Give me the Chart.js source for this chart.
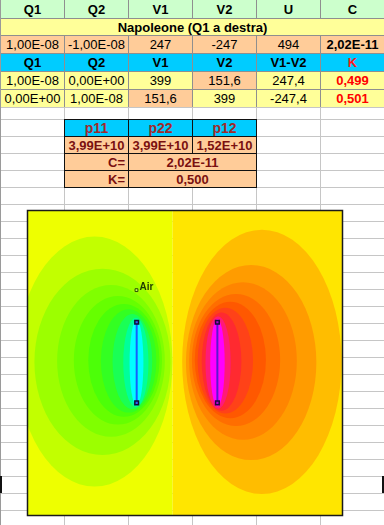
<!DOCTYPE html>
<html>
<head>
<meta charset="utf-8">
<script src="https://cdn.jsdelivr.net/npm/chart.js"></script>
<style>
  html,body{margin:0;padding:0;background:#fff;overflow:hidden;}
  #sheet{position:relative;width:384px;height:525px;overflow:hidden;background:#fff;
    font-family:"Liberation Sans",Arial,sans-serif;font-size:13px;color:#000;}
  .g{position:absolute;background:#c6c6c6;}
  .c{position:absolute;box-sizing:border-box;display:flex;align-items:center;justify-content:center;
     white-space:nowrap;line-height:1;}
  #plotWrap{position:absolute;left:22px;top:205px;width:326px;height:316px;}
</style>
</head>
<body>
<div id="sheet">
  <div id="plotWrap"><canvas id="chart" width="326" height="316"></canvas></div>
</div>
<script>
// ---------------- DATA ----------------
// Top table (sheet values)
const headerRow1 = ["Q1","Q2","V1","V2","U","C"];
const titleRow = "Napoleone (Q1 a destra)";
const napoleoneRow = ["1,00E-08","-1,00E-08","247","-247","494","2,02E-11"];
const headerRow2 = ["Q1","Q2","V1","V2","V1-V2","K"];
const caseRow1 = ["1,00E-08","0,00E+00","399","151,6","247,4","0,499"];
const caseRow2 = ["0,00E+00","1,00E-08","151,6","399","-247,4","0,501"];
// Coefficient table
const coeffHeaders = ["p11","p22","p12"];
const coeffValues = ["3,99E+10","3,99E+10","1,52E+10"];
const capLabel = "C=", capValue = "2,02E-11";
const kLabel = "K=", kValue = "0,500";

// Field plot (units: box width = 100)
const zeroLineX = 46.1;                 // boundary between negative / positive half
// contour levels around left (Q2, cyan) electrode, outer -> inner
const leftCx = [21.3, 23.8, 26.5, 28.7, 30.6, 32.1, 33.3, 34.4, 34.6];
const leftCy = [48.9, 48.8, 49.1, 49.3, 49.3, 49.1, 48.9, 48.6, 48.5];
const leftRx = [24.7, 21.6, 17.1, 14.0, 11.3, 8.8, 6.3, 4.0, 2.2];
const leftRy = [39.7, 29.6, 24.1, 20.4, 17.9, 16.4, 15.1, 14.2, 13.6];
// contour levels around right (Q1, magenta) electrode, outer -> inner
const rightCx = [74.4, 71.0, 68.4, 66.2, 64.4, 62.8, 61.6, 60.5, 60.3];
const rightCy = [48.8, 48.6, 49.1, 49.4, 49.4, 49.2, 48.9, 48.6, 48.5];
const rightRx = [25.3, 20.7, 17.1, 14.0, 11.3, 8.8, 6.3, 4.0, 2.3];
const rightRy = [42.0, 31.0, 25.0, 21.0, 18.5, 16.8, 15.6, 14.7, 13.9];
// electrodes
const electrodeX = [34.66, 60.28];
const electrodeYTop = 61.4;
const electrodeYBottom = 35.8;
// probe point
const probeLabel = "Air";
const probeX = 34.6, probeY = 71.6;

// ---------------- STYLES ----------------
const leftBg = "#eeff00", rightBg = "#ffe600";
const leftColors = ["#c2ff00","#9cff00","#80ff00","#66ff00","#4cff08","#33ff22","#1aff55","#00ff9a","#00ffff"];
const rightColors = ["#ffbd00","#ff9c00","#ff8500","#ff6e00","#ff5800","#ff4218","#ff2a30","#ff1a78","#ff00ff"];

// ---------------- SHEET ----------------
const sheet = document.getElementById("sheet");
function add(cls,l,t,w,h,css,text){ const d=document.createElement("div"); d.className=cls;
  Object.assign(d.style,{left:l+"px",top:t+"px",width:w+"px",height:h+"px"},css||{}); if(text!==undefined) d.textContent=text; sheet.appendChild(d); return d; }

const colX = [0,64,128,192,256,320,384];
const rowY = [0,18,35,53,71,89,107,119];
for(let y=136;y<=530;y+=17) rowY.push(y);
// gridlines
rowY.forEach(y=>{ if(y>0) add("g",0,y,384,1); });
colX.forEach(x=>{ if(x<384) add("g",x,0,1,525); });

const G="#ffff99", P="#ffcc99", B="#00ccff", H="#ccffcc";
const lineC = "1px solid #8f8f8f";
function row(r, vals, bgs, extra){
  for(let i=0;i<6;i++){
    const base = {background:bgs[i], borderLeft:lineC, borderTop:(r>0?lineC:"none")};
    const ex = extra?extra(i):{};
    add("c", colX[i], rowY[r], 64, rowY[r+1]-rowY[r], Object.assign(base,ex), vals[i]);
  }
}
row(0, headerRow1, [H,H,H,H,H,H], ()=>({fontWeight:"bold"}));
add("c",0,rowY[1],384,rowY[2]-rowY[1],{background:G,fontWeight:"bold",borderTop:lineC,borderLeft:lineC},titleRow);
row(2, napoleoneRow, [P,P,P,P,P,P], i=>(i===5?{fontWeight:"bold"}:{}));
row(3, headerRow2, [B,B,B,B,B,B], i=>(i===5?{fontWeight:"bold",color:"#ff1a1a"}:{fontWeight:"bold"}));
row(4, caseRow1, [G,G,G,P,G,G], i=>(i===5?{fontWeight:"bold",color:"#ff0000"}:{}));
row(5, caseRow2, [G,G,P,G,G,G], i=>(i===5?{fontWeight:"bold",color:"#ff0000"}:{}));
add("g",0,0,1,525,{background:"#9a9a9a"});

// coefficient table (rows 119..187)
const bd = "1px solid #111";
const tc1="#a02a2a", tc2="#7a1010";
for(let i=0;i<3;i++){
  add("c",colX[1+i],119,65,18,{background:B,border:bd,fontWeight:"bold",color:tc1,fontSize:"14px"},coeffHeaders[i]);
  add("c",colX[1+i],136,65,18,{background:P,border:bd,fontWeight:"bold",color:tc2},coeffValues[i]);
}
add("c",64,153,65,18,{background:P,border:bd,fontWeight:"bold",color:tc2,justifyContent:"flex-end",paddingRight:"3px"},capLabel);
add("c",128,153,129,18,{background:P,border:bd,fontWeight:"bold",color:tc2},capValue);
add("c",64,170,65,18,{background:P,border:bd,fontWeight:"bold",color:tc2,justifyContent:"flex-end",paddingRight:"3px"},kLabel);
add("c",128,170,129,18,{background:P,border:bd,fontWeight:"bold",color:tc2},kValue);

// chart selection handles
add("g",0,476,2,17,{background:"#111"});
add("g",382,476,2,17,{background:"#111"});

// plot above everything
sheet.appendChild(document.getElementById("plotWrap"));

// ---------------- CHART ----------------
const contourPlugin = {
  id:"contours",
  beforeDatasetsDraw(chart){
    const {ctx, chartArea:a, scales:{x,y}} = chart;
    ctx.save();
    ctx.beginPath(); ctx.rect(a.left,a.top,a.width,a.height); ctx.clip();
    const xm = x.getPixelForValue(zeroLineX);
    ctx.fillStyle = leftBg; ctx.fillRect(a.left,a.top,xm-a.left,a.height);
    ctx.fillStyle = rightBg; ctx.fillRect(xm,a.top,a.right-xm,a.height);
    const drawSet=(cx,cy,rx,ry,cols)=>{
      for(let i=0;i<cx.length;i++){
        const px=x.getPixelForValue(cx[i]), py=y.getPixelForValue(cy[i]);
        const prx=Math.abs(x.getPixelForValue(cx[i]+rx[i])-px);
        const pry=Math.abs(y.getPixelForValue(cy[i]+ry[i])-py);
        ctx.beginPath(); ctx.ellipse(px,py,prx,pry,0,0,Math.PI*2);
        ctx.fillStyle=cols[i]; ctx.fill();
      }
    };
    drawSet(leftCx,leftCy,leftRx,leftRy,leftColors);
    drawSet(rightCx,rightCy,rightRx,rightRy,rightColors);
    ctx.restore();
  },
  afterDraw(chart){
    const {ctx, chartArea:a, scales:{x,y}} = chart;
    ctx.save();
    ctx.strokeStyle="#1a1a1a"; ctx.lineWidth=1.5;
    ctx.strokeRect(a.left,a.top,a.width,a.height);
    ctx.fillStyle="#1f3a00"; ctx.font="bold 10px 'Liberation Sans', Arial, sans-serif";
    ctx.textBaseline="alphabetic";
    ctx.fillText(probeLabel, x.getPixelForValue(probeX)+3, y.getPixelForValue(probeY)-0.5);
    ctx.restore();
  }
};

new Chart(document.getElementById("chart"), {
  type:"scatter",
  data:{
    datasets:[
      { data:[{x:electrodeX[0],y:electrodeYTop},{x:electrodeX[0],y:electrodeYBottom}],
        showLine:true, borderColor:"#1560ff", borderWidth:2,
        pointStyle:"rect", pointRadius:2.6, pointBorderWidth:1.5,
        pointBorderColor:"#101030", pointBackgroundColor:"#3060ff" },
      { data:[{x:electrodeX[1],y:electrodeYTop},{x:electrodeX[1],y:electrodeYBottom}],
        showLine:true, borderColor:"#5a18d0", borderWidth:2,
        pointStyle:"rect", pointRadius:2.6, pointBorderWidth:1.5,
        pointBorderColor:"#200838", pointBackgroundColor:"#b000d0" },
      { data:[{x:probeX,y:probeY}], showLine:false,
        pointStyle:"rect", pointRadius:2, pointBorderWidth:1,
        pointBorderColor:"#2a5000", pointBackgroundColor:"#c8ff60" }
    ]
  },
  options:{
    responsive:false, animation:false, devicePixelRatio:1,
    layout:{padding:{left:1,right:1,top:1,bottom:1}},
    plugins:{legend:{display:false}, tooltip:{enabled:false}},
    scales:{
      x:{type:"linear",min:0,max:100,display:false},
      y:{type:"linear",min:0,max:96.9,display:false}
    },
    events:[]
  },
  plugins:[contourPlugin]
});
</script>
</body>
</html>
